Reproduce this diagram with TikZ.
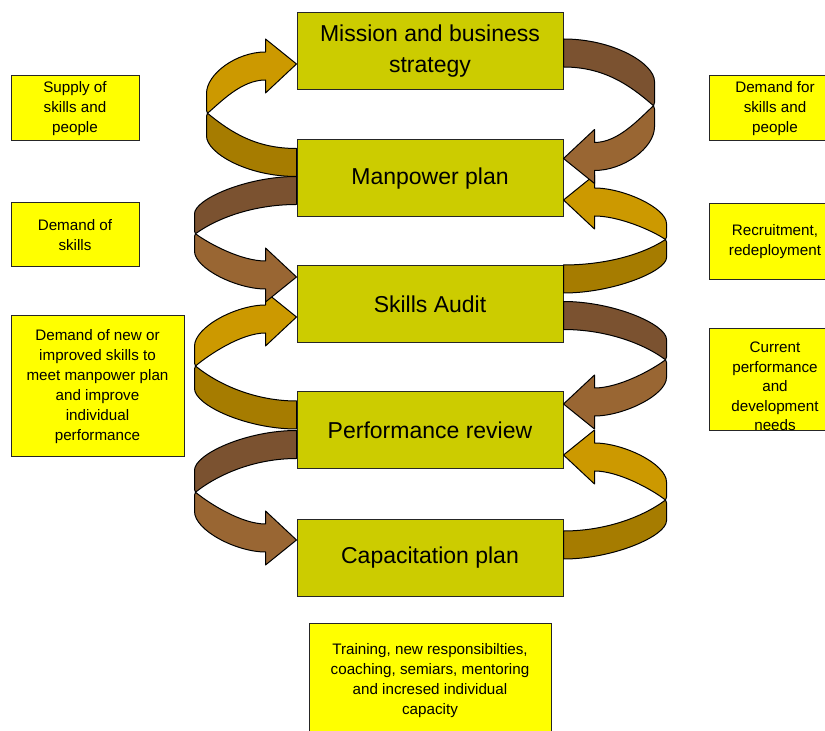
\documentclass[tikz,border=0pt]{standalone}
\usepackage{fontspec}
\setmainfont{Liberation Sans}
\usetikzlibrary{calc}

\definecolor{stagefill}{HTML}{CCCC00}
\definecolor{notefill}{HTML}{FFFF00}
\definecolor{goldhead}{HTML}{CC9900}
\definecolor{goldtail}{HTML}{A67C00}
\definecolor{brownhead}{HTML}{996633}
\definecolor{browntail}{HTML}{7B5230}

\tikzset{
  stage/.style={draw=black!85, line width=0.5pt, fill=stagefill, minimum width=133pt,
    minimum height=38.5pt, inner sep=0pt, align=center, font=\fontsize{11.5}{15.5}\selectfont},
  note/.style={draw=black!85, line width=0.5pt, fill=notefill, inner sep=0pt, align=center,
    font=\fontsize{7.6}{10}\selectfont},
  band/.style={draw=black, line width=0.5pt, line join=round},
}

% #1 tail, #2 tip, #3 side, #4 reach, #5 tail colour, #6 head colour
\newcommand\Ribbon[6]{%
  \path let \p1=($(#2)-(#1)$) in \pgfextra{%
    \pgfmathsetmacro\rD{abs(\y1)*2}\xdef\rD{\rD}%
    \pgfmathsetmacro\rS{\y1<0 ? -1 : 1}\xdef\rS{\rS}};
  \begin{scope}[shift={(#1)}, x=0.5pt, y=0.5pt, xscale=#3, yscale=\rS]
    \filldraw[band, fill=#5] (#4-1,0.5*\rD) -- (#4,0.47*\rD) -- (#4,0.27*\rD)
      .. controls (#4,0.1*\rD) and (50,-14) .. (0,-14) -- (0,14)
      .. controls (40,14) and (#4-25,0.3*\rD) .. cycle;
    \filldraw[band, fill=#6] (#4-1,0.5*\rD) -- (#4,0.53*\rD) -- (#4,0.7*\rD)
      .. controls (#4,0.9*\rD) and (60,\rD+12) .. (31,\rD+12) -- (31,\rD+25)
      -- (0,\rD) -- (31,\rD-29) -- (31,\rD-16)
      .. controls (55,\rD-16) and (#4-15,0.62*\rD) .. cycle;
  \end{scope}}

\begin{document}
\begin{tikzpicture}[x=0.5pt, y=-0.5pt]
\useasboundingbox (0,0) rectangle (825,731);
\clip (0,0) rectangle (825,731);

\node[stage] (ms) at (430,51) {Mission and business\\strategy};
\node[stage] (mp) at (430,178.5) {Manpower plan};
\node[stage] (sa) at (430,304) {Skills Audit};
\node[stage] (pr) at (430,430.5) {Performance review};
\node[stage] (cp) at (430,558) {Capacitation plan};

\node[note, minimum width=64pt, minimum height=32.5pt] (sup) at (75,108.5) {Supply of\\skills and\\people};
\node[note, minimum width=64pt, minimum height=32pt] (dos) at (75,235) {Demand of\\skills};
\node[note, minimum width=86.5pt, minimum height=70.5pt] (dnew) at (97.5,386.5)
  {Demand of new or\\improved skills to\\meet manpower plan\\and improve\\individual\\performance};
\node[note, minimum width=66pt, minimum height=32.5pt] (dfor) at (775,108.5) {Demand for\\skills and\\people};
\node[note, minimum width=66pt, minimum height=38pt] (rec) at (775,242) {Recruitment,\\redeployment};
\node[note, minimum width=66pt, minimum height=51pt, font=\fontsize{7.6}{9.75}\selectfont] (cur) at (775,380)
  {\raisebox{-4pt}[\height][\depth]{\begin{tabular}{@{}c@{}}Current\\performance\\and\\development\\needs\end{tabular}}};
\node[note, minimum width=121pt, minimum height=57pt] (train) at (430,681)
  {Training, new responsibilties,\\coaching, semiars, mentoring\\and incresed individual\\capacity};

\coordinate (l1t) at ($(mp.west)+(0,-16)$);
\coordinate (l1h) at ($(ms.west)+(0,13)$);
\coordinate (l2t) at ($(mp.west)+(0,12)$);
\coordinate (l2h) at ($(sa.west)+(0,-27)$);
\coordinate (l3t) at ($(pr.west)+(0,-15.5)$);
\coordinate (l3h) at ($(sa.west)+(0,13)$);
\coordinate (l4t) at ($(pr.west)+(0,14)$);
\coordinate (l4h) at ($(cp.west)+(0,-18)$);
\coordinate (r1t) at ($(ms.east)+(0,2)$);
\coordinate (r1h) at ($(mp.east)+(0,-20)$);
\coordinate (r2t) at ($(sa.east)+(0,-25)$);
\coordinate (r2h) at ($(mp.east)+(0,21.5)$);
\coordinate (r3t) at ($(sa.east)+(0,11.5)$);
\coordinate (r3h) at ($(pr.east)+(0,-26.5)$);
\coordinate (r4t) at ($(cp.east)+(0,-13)$);
\coordinate (r4h) at ($(pr.east)+(0,24.5)$);

\Ribbon{l1t}{l1h}{-1}{90}{goldtail}{goldhead}
\Ribbon{l3t}{l3h}{-1}{102}{goldtail}{goldhead}
\Ribbon{r2t}{r2h}{1}{103}{goldtail}{goldhead}
\Ribbon{r4t}{r4h}{1}{103}{goldtail}{goldhead}
\Ribbon{l2t}{l2h}{-1}{102}{browntail}{brownhead}
\Ribbon{l4t}{l4h}{-1}{102}{browntail}{brownhead}
\Ribbon{r1t}{r1h}{1}{91}{browntail}{brownhead}
\Ribbon{r3t}{r3h}{1}{103}{browntail}{brownhead}
\end{tikzpicture}
\end{document}
